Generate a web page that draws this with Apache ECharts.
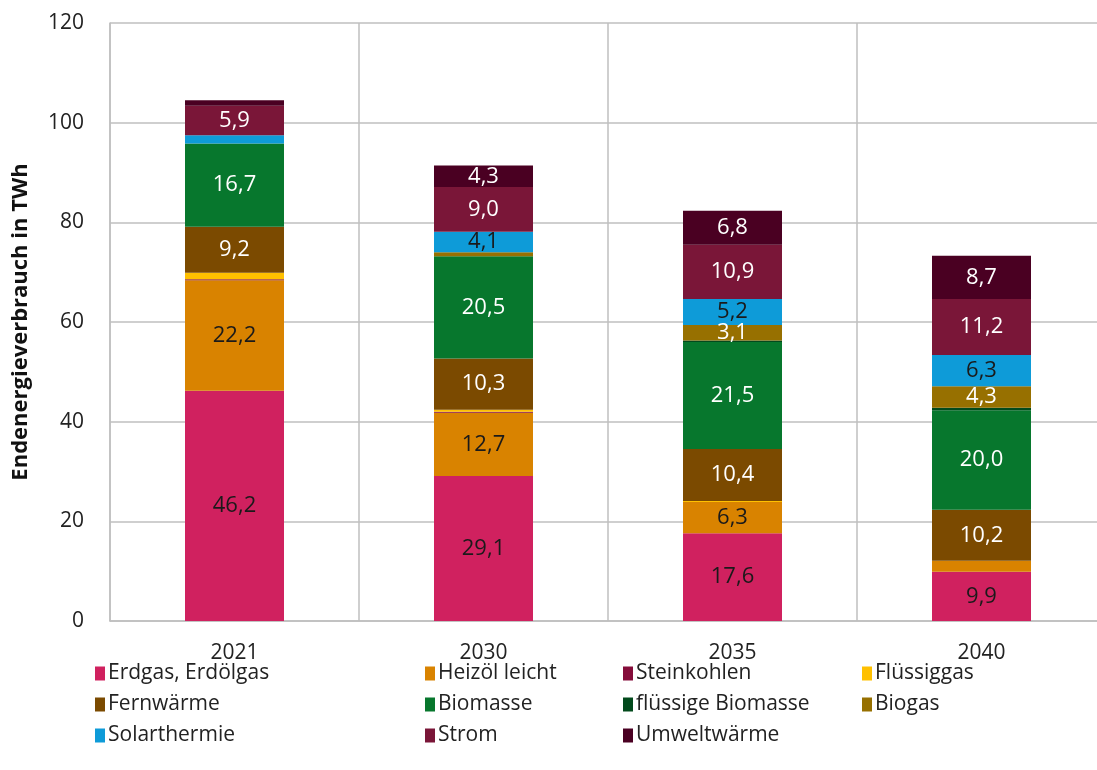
<!DOCTYPE html>
<html>
<head>
<meta charset="utf-8">
<script src="https://cdn.jsdelivr.net/npm/echarts@6/dist/echarts.min.js"></script>
<style>
  html, body { margin: 0; padding: 0; background: #fff; }
  #main { width: 1097px; height: 770px; }
</style>
</head>
<body>
<div id="main"></div>
<script>
// Jahre und Werte (TWh), von unten nach oben gestapelt
var years = ['2021', '2030', '2035', '2040'];
var yTicks = [0, 20, 40, 60, 80, 100, 120];

var erdgas = [46.2, 29.1, 17.6, 9.9];
var heizoel = [22.2, 12.7, 6.3, 2.2];
var steinkohlen = [0.2, 0.2, 0.0, 0.0];
var fluessiggas = [1.3, 0.4, 0.2, 0.0];
var fernwaerme = [9.2, 10.3, 10.4, 10.2];
var biomasse = [16.7, 20.5, 21.5, 20.0];
var fluessigeBiomasse = [0.0, 0.0, 0.3, 0.5];
var biogas = [0.0, 0.8, 3.1, 4.3];
var solarthermie = [1.7, 4.1, 5.2, 6.3];
var strom = [5.9, 9.0, 10.9, 11.2];
var umweltwaerme = [1.1, 4.3, 6.8, 8.7];

var names = ['Erdgas, Erdölgas', 'Heizöl leicht', 'Steinkohlen', 'Flüssiggas',
    'Fernwärme', 'Biomasse', 'flüssige Biomasse', 'Biogas',
    'Solarthermie', 'Strom', 'Umweltwärme'];
var values = [erdgas, heizoel, steinkohlen, fluessiggas, fernwaerme, biomasse,
    fluessigeBiomasse, biogas, solarthermie, strom, umweltwaerme];
var colors = ['#D0215F', '#D98300', '#850C3A', '#FFC000', '#7B4A00', '#07772D',
    '#024A1C', '#977000', '#0E9BD8', '#7A1638', '#4A0022'];
var labelColors = ['#1a1a1a', '#1a1a1a', '#fff', '#fff', '#fff', '#fff',
    '#fff', '#fff', '#1a1a1a', '#fff', '#fff'];

var font = 'Open Sans';

var series = names.map(function (n, i) {
    return {
        name: n,
        type: 'bar',
        stack: 'total',
        barWidth: 99,
        data: values[i],
        itemStyle: { color: colors[i] },
        label: {
            show: true,
            position: 'inside',
            color: labelColors[i],
            fontFamily: font,
            fontSize: 22,
            formatter: function (p) {
                return p.value >= 3 ? p.value.toFixed(1).replace('.', ',') : '';
            }
        }
    };
});

function legendCol(left, items) {
    return {
        left: left,
        top: 658,
        orient: 'vertical',
        icon: 'rect',
        itemWidth: 10,
        itemHeight: 14,
        itemGap: 10,
        data: items,
        textStyle: { fontFamily: font, fontSize: 21, color: '#222', padding: [0, 0, 0, -2] }
    };
}

var myChart = echarts.init(document.getElementById('main'));

var option = {
    animation: false,
    grid: { left: 110, top: 23, bottom: 149, width: 996, outerBoundsMode: 'none' },
    legend: [
        legendCol(90, ['Erdgas, Erdölgas', 'Fernwärme', 'Solarthermie']),
        legendCol(420, ['Heizöl leicht', 'Biomasse', 'Strom']),
        legendCol(618, ['Steinkohlen', 'flüssige Biomasse', 'Umweltwärme']),
        legendCol(857, ['Flüssiggas', 'Biogas'])
    ],
    xAxis: {
        type: 'category',
        data: years,
        axisLine: { lineStyle: { color: '#BFBFBF', width: 1.5 } },
        axisTick: { show: false },
        axisLabel: { fontFamily: font, fontSize: 21, color: '#222', margin: 22 },
        splitLine: { show: true, lineStyle: { color: '#BFBFBF', width: 1.5 } }
    },
    yAxis: {
        type: 'value',
        min: yTicks[0],
        max: yTicks[yTicks.length - 1],
        interval: 20,
        name: 'Endenergieverbrauch in TWh',
        nameLocation: 'middle',
        nameGap: 78,
        nameTextStyle: { fontFamily: font, fontSize: 22, fontWeight: 'bold', color: '#111' },
        axisLine: { show: true, lineStyle: { color: '#BFBFBF', width: 1.5 } },
        axisTick: { show: false },
        axisLabel: { fontFamily: font, fontSize: 21, color: '#222', margin: 26 },
        splitLine: { lineStyle: { color: '#BFBFBF', width: 1.5 } }
    },
    series: series
};

myChart.setOption(option);
</script>
</body>
</html>
